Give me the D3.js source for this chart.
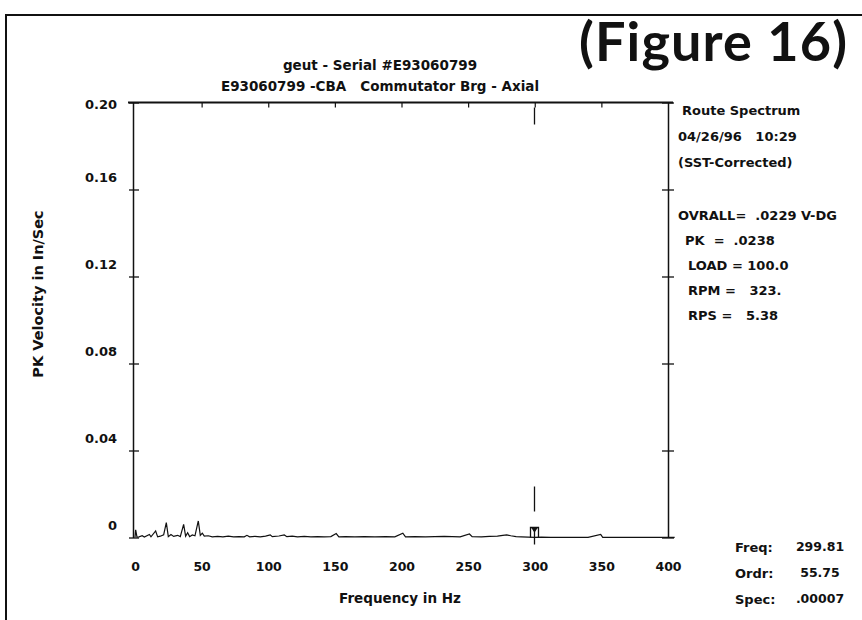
<!DOCTYPE html>
<html>
<head>
<meta charset="utf-8">
<script src="https://cdn.jsdelivr.net/npm/d3@7"></script>
<style>
  body { margin: 0; background: #fff; }
  svg { display: block; }
  text { font-family: "DejaVu Sans", "Liberation Sans", Arial, sans-serif; font-weight: bold; fill: #111; white-space: pre; }
</style>
</head>
<body>
<svg id="chart" width="862" height="620"></svg>
<script>
// Axis ticks
const xTicks = [0, 50, 100, 150, 200, 250, 300, 350, 400];
const yTicks = [0, 0.04, 0.08, 0.12, 0.16, 0.20];
const yTickLabels = ["0", "0.04", "0.08", "0.12", "0.16", "0.20"];

// Route spectrum: frequency (Hz) and PK velocity (in/sec)
const freqHz = [
  0, 0.5, 1.5, 3, 5.4, 7, 10.8, 12, 15.5, 17, 19, 21.5, 23.5, 25, 27, 29, 32, 34,
  36.5, 38, 39.5, 41, 43, 45, 47.5, 49, 50.5, 52, 55, 58, 62, 66, 70, 74, 78, 82,
  84, 86, 90, 94, 98, 101.5, 103, 108, 112, 114, 118, 122, 127, 132, 137, 142, 147,
  151, 153, 158, 165, 172, 180, 188, 195, 201, 203, 210, 218, 225, 232, 238, 244,
  251, 253, 260, 266, 272, 276, 279, 282, 286, 290, 295, 299.81, 305, 312, 320,
  330, 340, 349.5, 351, 360, 375, 390, 405
];
const velocity = [
  0, 0.0035, 0.0002, 0.0003, 0.0008, 0.0002, 0.0014, 0.0003, 0.0030, 0.0003, 0.0006,
  0.0012, 0.0068, 0.0004, 0.0014, 0.0005, 0.0010, 0.0004, 0.0060, 0.0006, 0.0022,
  0.0004, 0.0012, 0.0008, 0.0076, 0.0010, 0.0020, 0.0006, 0.0008, 0.0003, 0.0005,
  0.0003, 0.0006, 0.0003, 0.0004, 0.0003, 0.0010, 0.0003, 0.0005, 0.0003, 0.0006,
  0.0012, 0.0004, 0.0007, 0.0012, 0.0004, 0.0006, 0.0003, 0.0005, 0.0003, 0.0004,
  0.0003, 0.0004, 0.0018, 0.0003, 0.0004, 0.0003, 0.0004, 0.0003, 0.0004, 0.0003,
  0.0020, 0.0003, 0.0004, 0.0003, 0.0004, 0.0005, 0.0004, 0.0003, 0.0016, 0.0004,
  0.0003, 0.0005, 0.0006, 0.0010, 0.0012, 0.0008, 0.0004, 0.0003, 0.0002, 0.00007,
  0.0002, 0.0001, 0.0001, 0.0001, 0.0001, 0.0014, 0.0001, 0.0001, 0.0001, 0.0001,
  0.0001
];

// Header and side-panel text
const titleLines = ["geut - Serial #E93060799", "E93060799 -CBA   Commutator Brg - Axial"];
const routeLines = ["Route Spectrum", "04/26/96   10:29", "(SST-Corrected)"];
const statLines = ["OVRALL=  .0229 V-DG", "PK  =  .0238", "LOAD = 100.0", "RPM =   323.", "RPS =   5.38"];
const cursorLabels = ["Freq:", "Ordr:", "Spec:"];
const cursorValues = ["299.81", "55.75", ".00007"];
const cursorHz = 299.81;

const svg = d3.select("#chart");
const plot = { left: 133, right: 668, top: 102.5, bottom: 537.5 };

const x = d3.scaleLinear().domain([0, 400]).range([135, 668]);
const y = d3.scaleLinear().domain([0, 0.20]).range([plot.bottom, plot.top]);

// Page frame
svg.append("line").attr("x1", 6).attr("x2", 862).attr("y1", 15).attr("y2", 15)
  .attr("stroke", "#111").attr("stroke-width", 2);
svg.append("line").attr("x1", 6).attr("x2", 6).attr("y1", 14).attr("y2", 620)
  .attr("stroke", "#111").attr("stroke-width", 2);

// Figure caption
svg.append("text").attr("x", 713).attr("y", 61).attr("text-anchor", "middle")
  .style("font-family", "Lato, 'Open Sans', sans-serif").style("font-size", "54px")
  .attr("textLength", 268)
  .text("(Figure 16)");

// Titles
svg.selectAll("text.title").data(titleLines).enter().append("text")
  .attr("class", "title").attr("x", 380).attr("y", (d, i) => 65 + i * 21).attr("dy", "0.35em")
  .attr("text-anchor", "middle").style("font-size", "13.5px").text(d => d);

// Left axis with crossing ticks
const yAxisLeft = d3.axisLeft(y).tickValues(yTicks).tickSize(0).tickFormat("");
const gL = svg.append("g").attr("transform", `translate(${plot.left},0)`).call(yAxisLeft);
gL.select(".domain").attr("stroke", "#111").attr("stroke-width", 1.5);
gL.selectAll(".tick line").attr("x1", -4).attr("x2", 6).attr("stroke", "#111").attr("stroke-width", 1.3);
gL.selectAll(".tick").append("text").attr("x", -16)
  .attr("y", (d, i) => i === yTicks.length - 1 ? 1 : -13).attr("dy", "0.35em")
  .attr("text-anchor", "end").style("font-size", "13px").attr("fill", "#111")
  .text((d, i) => yTickLabels[i]);

// Right axis with crossing ticks
const yAxisRight = d3.axisRight(y).tickValues(yTicks).tickSize(0).tickFormat("");
const gR = svg.append("g").attr("transform", `translate(${plot.right},0)`).call(yAxisRight);
gR.select(".domain").attr("stroke", "#111").attr("stroke-width", 1.5);
gR.selectAll(".tick line").attr("x1", -6).attr("x2", 6).attr("stroke", "#111").attr("stroke-width", 1.3);

// Top axis with inward ticks
const xAxisTop = d3.axisTop(x).tickValues(xTicks.slice(1, -1)).tickSize(0).tickFormat("");
const gT = svg.append("g").attr("transform", `translate(0,${plot.top})`).call(xAxisTop);
gT.select(".domain").remove();
gT.append("line").attr("x1", plot.left - 5).attr("x2", plot.right + 5)
  .attr("stroke", "#111").attr("stroke-width", 1.8);
gT.selectAll(".tick line").attr("y1", 0).attr("y2", 5).attr("stroke", "#111").attr("stroke-width", 1.2);

// Bottom tick labels (no ruled line; the spectrum trace forms the floor)
const xAxisBottom = d3.axisBottom(x).tickValues(xTicks).tickSize(0).tickFormat(d => d);
const gB = svg.append("g").attr("transform", `translate(0,${plot.bottom})`).call(xAxisBottom);
gB.select(".domain").remove();
gB.selectAll(".tick text").attr("y", 29).attr("dy", "0.35em")
  .style("font-family", "'DejaVu Sans', sans-serif").style("font-weight", "bold")
  .style("font-size", "12.5px").attr("fill", "#111");

// Axis titles
svg.append("text").attr("x", 400).attr("y", 598).attr("dy", "0.35em").attr("text-anchor", "middle")
  .style("font-size", "13.5px").text("Frequency in Hz");
svg.append("text").attr("transform", "translate(38,294) rotate(-90)").attr("dy", "0.35em")
  .attr("text-anchor", "middle").style("font-size", "14.5px")
  .text("PK Velocity in In/Sec");

// Spectrum trace
const pts = freqHz.map((f, i) => [f, velocity[i]]);
svg.append("path").datum(pts)
  .attr("d", d3.line().x(d => x(d[0])).y(d => y(d[1])))
  .attr("fill", "none").attr("stroke", "#111").attr("stroke-width", 1.2);

// Cursor at the selected line
const cx = x(cursorHz);
const cur = svg.append("g").attr("stroke", "#111").attr("fill", "none").attr("stroke-width", 1.3);
cur.append("line").attr("x1", cx).attr("x2", cx).attr("y1", plot.top + 5).attr("y2", plot.top + 22);
cur.append("line").attr("x1", cx).attr("x2", cx).attr("y1", plot.bottom - 51).attr("y2", plot.bottom - 26);
cur.append("path").attr("d", `M${cx - 4},${plot.bottom} V${plot.bottom - 10} H${cx + 4} V${plot.bottom}`);
cur.append("path").attr("d", `M${cx - 2},${plot.bottom - 9} L${cx + 2},${plot.bottom - 9} L${cx},${plot.bottom - 6} Z`)
  .attr("fill", "#111");
cur.append("line").attr("x1", cx).attr("x2", cx).attr("y1", plot.bottom - 9).attr("y2", plot.bottom + 7);

// Side panel
svg.selectAll("text.route").data(routeLines).enter().append("text").attr("class", "route")
  .attr("x", (d, i) => i === 0 ? 682 : 678).attr("y", (d, i) => 110 + i * 26).attr("dy", "0.35em")
  .style("font-size", "13px").text(d => d);
const statX = [678, 685, 688, 688, 688];
svg.selectAll("text.stat").data(statLines).enter().append("text").attr("class", "stat")
  .attr("x", (d, i) => statX[i]).attr("y", (d, i) => 215 + i * 25).attr("dy", "0.35em")
  .style("font-size", "13px").text(d => d);

// Cursor readout
svg.selectAll("text.clab").data(cursorLabels).enter().append("text").attr("class", "clab")
  .attr("x", 735).attr("y", (d, i) => 547 + i * 26).attr("dy", "0.35em")
  .style("font-size", "13px").text(d => d);
svg.selectAll("text.cval").data(cursorValues).enter().append("text").attr("class", "cval")
  .attr("x", 820).attr("y", (d, i) => 547 + i * 26).attr("dy", "0.35em").attr("text-anchor", "middle")
  .style("font-size", "12.5px").text(d => d);
</script>
</body>
</html>
